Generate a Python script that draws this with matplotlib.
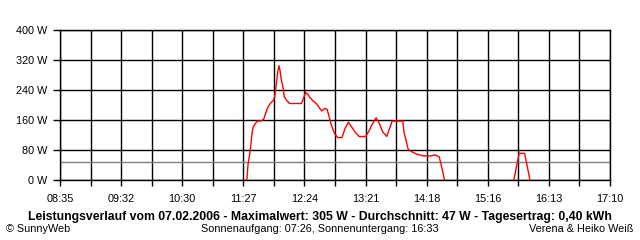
import numpy as np
import matplotlib.pyplot as plt

plt.rcParams['font.family'] = ['Liberation Sans', 'DejaVu Sans']

# power readings (clock time, watts), NaN marks the gap at night-level zero
times = ["11:30", "11:31", "11:33", "11:34", "11:35", "11:36", "11:38", "11:40",
         "11:44", "11:46", "11:48", "11:50", "11:52", "11:55", "11:56", "11:57",
         "11:58", "11:59", "12:00", "12:01", "12:02", "12:04", "12:05", "12:07",
         "12:10", "12:21", "12:23", "12:25", "12:28", "12:29", "12:32", "12:35",
         "12:40", "12:43", "12:45", "12:47", "12:49", "12:52", "12:55", "12:59",
         "13:02", "13:05", "13:08", "13:11", "13:15", "13:21", "13:24", "13:27",
         "13:31", "13:34", "13:37", "13:41", "13:46", "13:56", "13:57", "14:01",
         "14:04", "14:09", "14:14", "14:22", "14:26", "14:30", "14:32", "14:35",
         "14:36",
         "15:40", "15:43", "15:45", "15:50", "15:52", "15:55"]
watts = [0, 40, 76, 102, 129, 142, 151, 157,
         158, 164, 182, 196, 204, 213, 222, 244,
         267, 289, 305, 293, 271, 244, 222, 213,
         204, 204, 218, 234, 225, 220, 211, 204,
         184, 191, 189, 169, 147, 124, 113, 113,
         138, 154, 142, 129, 116, 116, 129, 147,
         166, 151, 129, 116, 157, 157, 129, 82,
         76, 69, 65, 64, 67, 62, 40, 0,
         np.nan,
         0, 44, 71, 71, 44, 0]
average = 47

x_labels = ["08:35", "09:32", "10:30", "11:27", "12:24", "13:21",
            "14:18", "15:16", "16:13", "17:10"]
y_values = [0, 80, 160, 240, 320, 400]

def to_min(s):
    h, m = s.split(":")
    return int(h) * 60 + int(m)

t = np.array([to_min(s) for s in times], dtype=float)
w = np.array(watts, dtype=float)

t0, t1 = to_min("08:35"), to_min("17:10")

fig = plt.figure(figsize=(6.4, 2.4), dpi=100)
ax = fig.add_axes([60 / 640, 60 / 240, 550 / 640, 150 / 240])

ax.set_xlim(t0, t1)
ax.set_ylim(0, 400)

xt = np.linspace(t0, t1, 19)
ax.set_xticks(xt)
ax.set_xticklabels([x_labels[i // 2] if i % 2 == 0 else "" for i in range(19)])
ax.set_yticks(y_values)
ax.set_yticklabels(["%d W" % v for v in y_values])

ax.grid(True, color='black', linewidth=1.0)
ax.set_axisbelow(True)
for s in ax.spines.values():
    s.set_linewidth(1.0)
ax.tick_params(axis='x', length=4, width=1.0, pad=6, labelsize=7.8)
ax.tick_params(axis='y', length=5, width=1.0, pad=4, labelsize=7.8)

ax.axhline(average, color='#808080', linewidth=1.0, zorder=2.5)
ax.plot(t, w, color='#ff0000', linewidth=1.0, zorder=3)

fig.text(320 / 640, 1 - 217 / 240,
         "Leistungsverlauf vom 07.02.2006 - Maximalwert: 305 W - Durchschnitt: 47 W - Tagesertrag: 0,40 kWh",
         ha='center', va='center', fontsize=8.8, fontweight='bold')
fig.text(6 / 640, 1 - 228.5 / 240, "\u00a9 SunnyWeb", ha='left', va='center', fontsize=7.8)
fig.text(320 / 640, 1 - 228.5 / 240, "Sonnenaufgang: 07:26, Sonnenuntergang: 16:33",
         ha='center', va='center', fontsize=7.8)
fig.text(633 / 640, 1 - 228.5 / 240, "Verena & Heiko Weiß", ha='right', va='center', fontsize=7.8)

fig.savefig("out.png", dpi=100)
